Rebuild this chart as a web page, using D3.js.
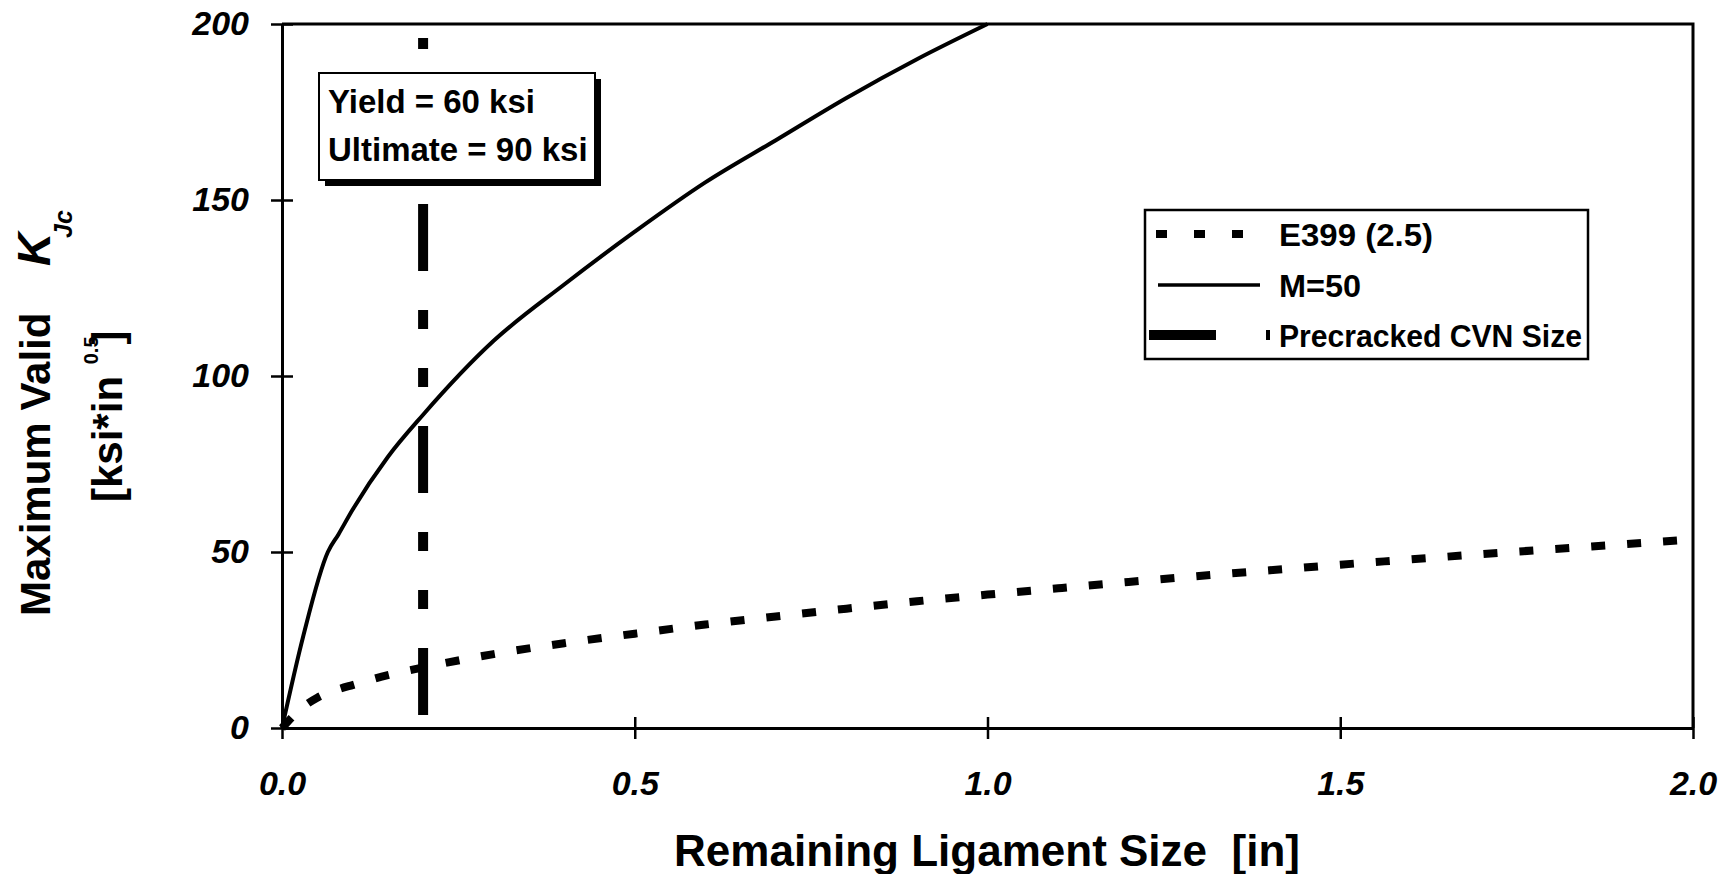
<!DOCTYPE html>
<html>
<head>
<meta charset="utf-8">
<script src="https://cdn.jsdelivr.net/npm/d3@7"></script>
<style>
  html, body { margin: 0; padding: 0; background: #fff; }
  svg { display: block; }
  text { white-space: pre; }
</style>
</head>
<body>
<div id="chart"></div>
<script>
// ── Data ─────────────────────────────────────────
const X_TICKS = [0, 0.5, 1.0, 1.5, 2.0];
const Y_TICKS = [0, 50, 100, 150, 200];

// M=50 curve
const LIGAMENT_M50 = [0, 0.03, 0.065, 0.08, 0.1, 0.15, 0.2, 0.3, 0.4, 0.5, 0.6, 0.7, 0.8, 0.9, 1.0];
const KJC_M50      = [0, 26, 50, 55, 62, 77, 89, 110, 126, 141, 155, 167, 179, 190, 200];

// E399 (2.5) curve
const LIGAMENT_E399 = [0, 0.03, 0.05, 0.08, 0.1, 0.15, 0.2, 0.3, 0.4, 0.5, 0.6, 0.7, 0.8, 0.9, 1.0,
                       1.1, 1.2, 1.3, 1.4, 1.5, 1.6, 1.7, 1.8, 1.9, 2.0];
const KJC_E399      = [0, 6, 8.6, 11, 12.2, 15, 17.2, 21, 24.1, 26.8, 29.4, 31.7, 33.9, 36, 37.9,
                       39.7, 41.5, 43.2, 44.8, 46.4, 47.9, 49.4, 50.8, 52.2, 53.6];

// Precracked CVN size (vertical line)
const CVN_X = [0.2, 0.2];
const CVN_Y = [0, 196];

const LEGEND_LABELS = ["E399 (2.5)", "M=50", "Precracked CVN Size"];
const NOTE_LINES    = ["Yield = 60 ksi", "Ultimate = 90 ksi"];

// ── Layout ───────────────────────────────────────
const W = 1733, H = 874;
const FONT = "'Liberation Sans', Arial, Helvetica, sans-serif";

const svg = d3.select("#chart").append("svg")
  .attr("width", W).attr("height", H)
  .style("background", "#fff");

const x = d3.scaleLinear().domain([0, 2]).range([282, 1693]);
const y = d3.scaleLinear().domain([0, 200]).range([728, 24]);

const zip = (xs, ys) => xs.map((v, i) => [v, ys[i]]);
const line = d3.line().x(d => x(d[0])).y(d => y(d[1]));
const smooth = d3.line().x(d => x(d[0])).y(d => y(d[1])).curve(d3.curveMonotoneX);

// ── Frame (top + right) ──────────────────────────
svg.append("path")
  .attr("d", `M${x(0)},${y(200)}H${x(2)}V${y(0)}`)
  .attr("fill", "none").attr("stroke", "#000").attr("stroke-width", 3);

// ── Series ───────────────────────────────────────
svg.append("path")
  .datum(zip(LIGAMENT_E399, KJC_E399))
  .attr("d", smooth)
  .attr("fill", "none").attr("stroke", "#000")
  .attr("stroke-width", 8).attr("stroke-dasharray", "14,22");

svg.append("path")
  .datum(zip(LIGAMENT_M50, KJC_M50))
  .attr("d", smooth)
  .attr("fill", "none").attr("stroke", "#000")
  .attr("stroke-width", 4).attr("stroke-linejoin", "round");

svg.append("path")
  .datum(zip(CVN_X, CVN_Y))
  .attr("d", line)
  .attr("fill", "none").attr("stroke", "#000")
  .attr("stroke-width", 10)
  .attr("stroke-dasharray", "67,39,19,39,19,39")
  .attr("stroke-dashoffset", -13);

// ── Axes ─────────────────────────────────────────
const yAxis = svg.append("g")
  .attr("transform", `translate(${x(0)},0)`)
  .call(d3.axisLeft(y).tickValues(Y_TICKS).tickSizeInner(11).tickSizeOuter(0)
        .tickPadding(22).tickFormat(d3.format("d")));
yAxis.select(".domain").attr("stroke-width", 3);
yAxis.selectAll(".tick line").attr("x1", 11).attr("stroke-width", 2.5);
yAxis.selectAll("text")
  .attr("font-family", FONT).attr("font-size", 34)
  .attr("font-weight", "bold").attr("font-style", "italic").attr("fill", "#000");

const xAxis = svg.append("g")
  .attr("transform", `translate(0,${y(0)})`)
  .call(d3.axisBottom(x).tickValues(X_TICKS).tickSizeInner(11).tickSizeOuter(0)
        .tickPadding(32).tickFormat(d3.format(".1f")));
xAxis.select(".domain").attr("stroke-width", 3);
xAxis.selectAll(".tick line").attr("y1", -11).attr("stroke-width", 2.5);
xAxis.selectAll("text")
  .attr("font-family", FONT).attr("font-size", 34)
  .attr("font-weight", "bold").attr("font-style", "italic").attr("fill", "#000");

// ── Axis titles ──────────────────────────────────
svg.append("text")
  .attr("x", 987).attr("y", 866)
  .attr("text-anchor", "middle")
  .attr("font-family", FONT).attr("font-size", 44).attr("font-weight", "bold")
  .text("Remaining Ligament Size  [in]");

const yt = svg.append("g").attr("transform", "translate(50,616) rotate(-90)");
yt.append("text")
  .attr("x", 0).attr("y", 0)
  .attr("font-family", FONT).attr("font-size", 42).attr("font-weight", "bold")
  .text("Maximum Valid");
yt.append("text")
  .attr("x", 350).attr("y", 0)
  .attr("font-family", FONT).attr("font-size", 46).attr("font-weight", "bold")
  .attr("font-style", "italic")
  .text("K");
yt.append("text")
  .attr("x", 378).attr("y", 22)
  .attr("font-family", FONT).attr("font-size", 25).attr("font-weight", "bold")
  .attr("font-style", "italic")
  .text("Jc");

const yt2 = svg.append("g").attr("transform", "translate(122,502) rotate(-90)");
const t2 = yt2.append("text")
  .attr("x", 0).attr("y", 0)
  .attr("font-family", FONT).attr("font-size", 42).attr("font-weight", "bold");
t2.append("tspan").text("[ksi*in ");
t2.append("tspan").attr("font-size", 20).attr("dy", -24).text("0.5");
t2.append("tspan").attr("dy", 24).attr("dx", -8).text("]");

// ── Annotation box ───────────────────────────────
const note = svg.append("g");
note.append("rect")
  .attr("x", 325).attr("y", 79).attr("width", 276).attr("height", 107)
  .attr("fill", "#000");
note.append("rect")
  .attr("x", 319).attr("y", 73).attr("width", 276).attr("height", 107)
  .attr("fill", "#fff").attr("stroke", "#000").attr("stroke-width", 2);
note.selectAll("text.note").data(NOTE_LINES).join("text")
  .attr("class", "note")
  .attr("x", 328).attr("y", (d, i) => 113 + i * 48)
  .attr("font-family", FONT).attr("font-size", 33).attr("font-weight", "bold")
  .text(d => d);

// ── Legend ───────────────────────────────────────
const lg = svg.append("g");
lg.append("rect")
  .attr("x", 1145).attr("y", 210).attr("width", 443).attr("height", 149)
  .attr("fill", "#fff").attr("stroke", "#000").attr("stroke-width", 2.5);

const legendRows = [234, 285, 335];
const legendText = [154, 82, 303];   // label widths in the scan
const legendStyles = [
  { x1: 1156, x2: 1243, w: 8,   dash: "11,27" },
  { x1: 1158, x2: 1260, w: 3.5, dash: null },
  { x1: 1149, x2: 1270, w: 10,  dash: "67,50,19" }
];
legendStyles.forEach((s, i) => {
  const l = lg.append("line")
    .attr("x1", s.x1).attr("x2", s.x2)
    .attr("y1", legendRows[i]).attr("y2", legendRows[i])
    .attr("stroke", "#000").attr("stroke-width", s.w);
  if (s.dash) l.attr("stroke-dasharray", s.dash);
});
lg.selectAll("text.leg").data(LEGEND_LABELS).join("text")
  .attr("class", "leg")
  .attr("x", 1279).attr("y", (d, i) => legendRows[i] + 12)
  .attr("font-family", FONT).attr("font-size", 32).attr("font-weight", "bold")
  .attr("textLength", (d, i) => legendText[i])
  .attr("lengthAdjust", "spacingAndGlyphs")
  .text(d => d);
</script>
</body>
</html>
